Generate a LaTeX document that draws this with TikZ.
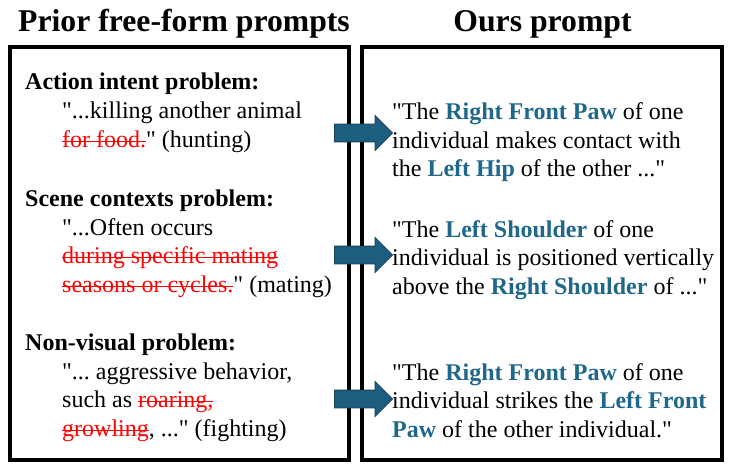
\documentclass[tikz,border=0pt]{standalone}
\usepackage{fontspec}
\setmainfont{Liberation Serif}[Ligatures=TeXOff]
\usepackage{xcolor}
\usetikzlibrary{shapes.arrows}
\definecolor{keyblue}{RGB}{31,104,140}
\definecolor{arrowblue}{RGB}{30,94,128}
\definecolor{arrowedge}{RGB}{22,66,92}
\newsavebox{\cutbox}
\newcommand{\cut}[1]{\textcolor{red}{\sbox{\cutbox}{#1}\rlap{\rule[0.22em]{\wd\cutbox}{1.1pt}}\usebox{\cutbox}}}
\newcommand{\kw}[1]{\textbf{\textcolor{keyblue}{#1}}}
\frenchspacing

\begin{document}
\begin{tikzpicture}[x=1pt, y=-1pt,
  frame/.style={draw, line width=4.5pt, inner sep=0pt},
  ttl/.style={font=\fontsize{31.7}{36}\selectfont\bfseries, anchor=base, inner sep=0pt},
  hd/.style={font=\fontsize{24}{28.5}\selectfont\bfseries, anchor=base west, inner sep=0pt},
  txt/.style={font=\fontsize{24}{28.5}\selectfont, anchor=base west, text width=330pt, align=flush left, inner sep=0pt},
  blk/.style={single arrow, draw=arrowedge, fill=arrowblue, line width=0.8pt, minimum height=58pt,
    inner xsep=0pt, inner ysep=8.5pt, single arrow head extend=8.5pt}]
\useasboundingbox (0,0) rectangle (733,473);
% titles
\node[ttl] (ttlprior) at (184,32) {Prior free-form prompts};
\node[ttl] (ttlours) at (542.5,32) {Ours prompt};
% the two panels
\node[frame, minimum width=339pt, minimum height=413pt] (prior) at (179.5,253.5) {};
\node[frame, minimum width=360pt, minimum height=413pt] (ours) at (542,253.5) {};
% left: problems of free-form prompts
\node[hd] (hintent) at (25,90) {Action intent problem:};
\node[txt] (qintent) at (62,119) {"...killing another animal\\\cut{for food.}" (hunting)};
\node[hd] (hscene) at (25,206) {Scene contexts problem:};
\node[txt] (qscene) at (62,235) {"...Often occurs\\\cut{during specific mating}\\\cut{seasons or cycles.}" (mating)};
\node[hd] (hvisual) at (25,350) {Non-visual problem:};
\node[txt] (qvisual) at (62,379) {"... aggressive behavior,\\such as \cut{roaring,}\\\cut{growling}, ..." (fighting)};
% right: our prompts
\node[txt] (pcontact) at (392,120) {"The \kw{Right Front Paw} of one\\individual makes contact with\\the \kw{Left Hip} of the other ..."};
\node[txt] (pabove) at (392,237) {"The \kw{Left Shoulder} of one\\individual is positioned vertically\\above the \kw{Right Shoulder} of ..."};
\node[txt] (pstrike) at (392,380) {"The \kw{Right Front Paw} of one\\individual strikes the \kw{Left Front}\\\kw{Paw} of the other individual."};
% arrows
\node[blk] (arrintent) at (359,133) {};
\node[blk] (arrscene) at (359,255) {};
\node[blk] (arrvisual) at (359,399) {};
\end{tikzpicture}
\end{document}
